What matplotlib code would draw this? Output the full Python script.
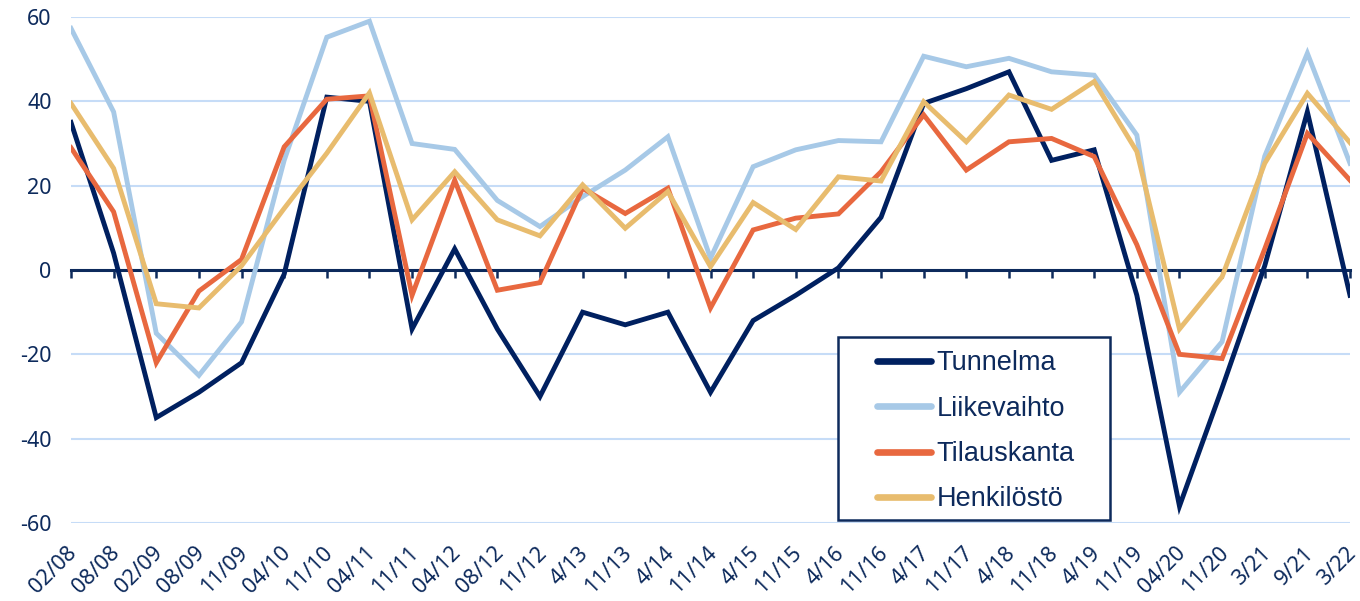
import matplotlib
matplotlib.use("Agg")
import matplotlib.pyplot as plt
import matplotlib.transforms as mtransforms
from matplotlib.patches import Rectangle

plt.rcParams["axes.unicode_minus"] = False

categories = ["02/08", "08/08", "02/09", "08/09", "11/09", "04/10", "11/10", "04/11",
              "11/11", "04/12", "08/12", "11/12", "4/13", "11/13", "4/14", "11/14",
              "4/15", "11/15", "4/16", "11/16", "4/17", "11/17", "4/18", "11/18",
              "4/19", "11/19", "04/20", "11/20", "3/21", "9/21", "3/22"]

tunnelma = [35, 4, -35, -29, -22, -1, 41, 40, -14, 5, -14, -30, -10, -13, -10, -29,
            -12, -6, 0.5, 12.5, 39.5, 43, 47, 26, 28.5, -6, -56, -28, 1, 37.5, -6]
liikevaihto = [57.3, 37.5, -15, -25, -12.3, 26, 55.2, 59, 30, 28.6, 16.5, 10.3, 17.4,
               23.7, 31.6, 2.8, 24.5, 28.5, 30.7, 30.4, 50.7, 48.2, 50.2, 47, 46.2,
               32, -29, -17, 27, 51.4, 25.3]
tilauskanta = [29, 13.8, -22, -5, 2.5, 29.2, 40.5, 41.3, -6, 21.3, -4.8, -3, 19.4,
               13.4, 19.4, -9, 9.5, 12.3, 13.3, 23.3, 36.8, 23.7, 30.4, 31.2, 26.9,
               6, -20, -21, 5, 32.4, 21.3]
henkilosto = [39.5, 24.1, -8, -9, 1, 14.6, 27.7, 42, 11.9, 23.3, 11.9, 8.1, 20.2,
              9.9, 18.6, 0.8, 16, 9.6, 22.1, 21.1, 39.9, 30.4, 41.5, 38.1, 44.7,
              28.1, -14, -1.6, 25.3, 41.9, 30.2]

series_names = ["Tunnelma", "Liikevaihto", "Tilauskanta", "Henkilöstö"]
series_values = [tunnelma, liikevaihto, tilauskanta, henkilosto]
colors = ["#002060", "#a7c9e7", "#e8683f", "#e8bc6e"]
yticks = [-60, -40, -20, 0, 20, 40, 60]

navy = "#0d2a5c"
tick_font = "Noto Sans"

fig = plt.figure(figsize=(13.6, 6.01), dpi=100)
ax = fig.add_axes([71 / 1360, 78 / 601, 1279 / 1360, 506 / 601])

x = list(range(len(categories)))
for name, vals, c in zip(series_names, series_values, colors):
    ax.plot(x, vals, color=c, lw=3.5, label=name, solid_joinstyle="miter", zorder=3)

ax.set_xlim(0, len(categories) - 1)
ax.set_ylim(-60, 60)
ax.set_yticks(yticks)
ax.yaxis.grid(True, color="#c6dcf7", lw=1.5)
ax.set_axisbelow(True)
for s in ["left", "right", "top"]:
    ax.spines[s].set_visible(False)
ax.spines["bottom"].set_position(("data", 0))
ax.spines["bottom"].set_color(navy)
ax.spines["bottom"].set_linewidth(2.2)
ax.spines["bottom"].set_zorder(2.5)
ax.set_xticks(x)
ax.tick_params(axis="x", direction="out", length=6, width=1.8, color=navy,
               labelbottom=False)
ax.tick_params(axis="y", length=0, pad=14, labelsize=15.5, labelcolor=navy)
for lab in ax.get_yticklabels():
    lab.set_fontfamily(tick_font)

trans = mtransforms.blended_transform_factory(ax.transData, ax.transAxes)
offset = mtransforms.ScaledTranslation(3 / 100, -27 / 100, fig.dpi_scale_trans)
for xi, lab in zip(x, categories):
    ax.text(xi, 0, lab, transform=trans + offset, rotation=45, ha="right", va="center",
            rotation_mode="anchor", fontsize=15.5, color=navy, family=tick_font)

# legend frame
fx0 = (838 - 71) / 1279
fy0 = (523 - 520) / 506
fw = (1110 - 838) / 1279
fh = (520 - 337) / 506
ax.add_patch(Rectangle((fx0, fy0), fw, fh, transform=ax.transAxes, facecolor="white",
                       edgecolor=navy, lw=1.8, zorder=4))

hx = (877 - 71) / 1279
ty = (523 - 350) / 506
leg = ax.legend(loc="upper left", bbox_to_anchor=(hx, ty), borderaxespad=0,
                borderpad=0, frameon=False,
                prop={"family": "Liberation Sans", "size": 19.5},
                labelcolor=navy, handlelength=2.0, handletextpad=0.2,
                labelspacing=0.72)
leg.set_zorder(5)
for line in leg.get_lines():
    line.set_linewidth(4.8)
    line.set_solid_capstyle("round")

fig.savefig("out.png", dpi=100)
